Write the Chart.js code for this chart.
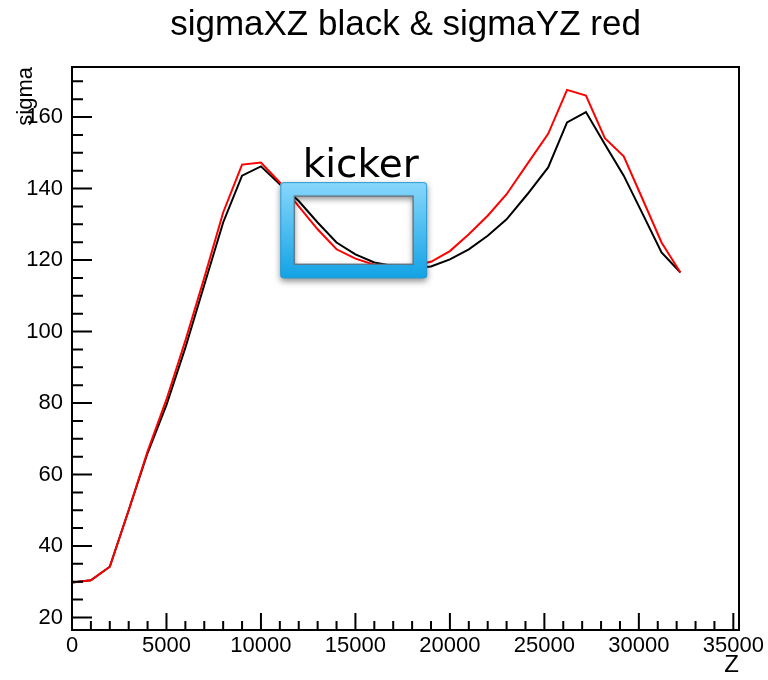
<!DOCTYPE html>
<html>
<head>
<meta charset="utf-8">
<script src="https://cdn.jsdelivr.net/npm/chart.js@4"></script>
<style>
  body { margin: 0; background: #fff; }
  canvas { display: block; }
</style>
</head>
<body>
<canvas id="sigmaChart" width="768" height="680"></canvas>
<script>
// z positions along the beam line
const z = [0, 1000, 2000, 3000, 4000, 5000, 6000, 7000, 8000, 9000, 10000,
  11000, 12000, 13000, 14000, 15000, 16000, 17000, 18000, 19000, 20000,
  21000, 22000, 23000, 24100, 25200, 26200, 27200, 28200, 29200, 30200, 31200, 32200];

// sigmaXZ (black)
const sigmaXZ = [29.8, 30.4, 34.2, 50, 66, 79.5, 95.5, 113, 130.5, 143.6, 146.2,
  141.2, 136.5, 130.5, 124.9, 121.6, 119.3, 118.3, 117.8, 118.2, 120.2,
  123.0, 126.8, 131.4, 138.4, 145.9, 158.5, 161.4, 152.4, 143.6, 132.9, 122.1, 116.5];

// sigmaYZ (red)
const sigmaYZ = [29.8, 30.4, 34.2, 50, 66.5, 81, 97.5, 115, 133.3, 146.7, 147.3,
  141.7, 135, 128.6, 123.0, 120.4, 118.7, 118.2, 118.5, 119.5, 122.5,
  127.2, 132.4, 138.4, 146.9, 155.3, 167.6, 166.0, 154.1, 149.0, 137.0, 124.9, 116.5];

const xTickValues = [0, 5000, 10000, 15000, 20000, 25000, 30000, 35000];
const yTickValues = [20, 40, 60, 80, 100, 120, 140, 160];
const xMinorStep = 1000;
const yMinorStep = 5;

// kicker annotation (data units)
const kickerZ = [11025, 18795];
const kickerSigma = [114.9, 141.8];
const kickerLabel = 'kicker';

const FONT = "'Liberation Sans', Arial, sans-serif";

const toPoints = (ys) => z.map((v, i) => ({ x: v, y: ys[i] }));

// ROOT-like frame: ticks inside the frame, plus the kicker box
const rootFrame = {
  id: 'rootFrame',
  afterDatasetsDraw(chart) {
    const { ctx, chartArea: { left, right, top, bottom }, scales: { x, y } } = chart;
    ctx.save();
    ctx.strokeStyle = '#000';
    ctx.lineWidth = 2;
    ctx.beginPath();
    for (let v = 0; v <= x.max; v += xMinorStep) {
      const px = x.getPixelForValue(v);
      const len = v % 5000 === 0 ? 17 : 9;
      ctx.moveTo(px, bottom);
      ctx.lineTo(px, bottom - len);
    }
    for (let v = Math.ceil(y.min / yMinorStep) * yMinorStep; v <= y.max; v += yMinorStep) {
      const py = y.getPixelForValue(v);
      const len = v % 20 === 0 ? 20 : 11;
      ctx.moveTo(left, py);
      ctx.lineTo(left + len, py);
    }
    ctx.stroke();
    ctx.lineWidth = 2;
    ctx.strokeRect(left, top, right - left, bottom - top);

    // kicker box
    const x0 = x.getPixelForValue(kickerZ[0]);
    const x1 = x.getPixelForValue(kickerZ[1]);
    const y0 = y.getPixelForValue(kickerSigma[1]);
    const y1 = y.getPixelForValue(kickerSigma[0]);
    const t = 14;
    const g = ctx.createLinearGradient(0, y0, 0, y1);
    g.addColorStop(0, '#88d7fb');
    g.addColorStop(1, '#12a2e5');
    ctx.save();
    ctx.shadowColor = 'rgba(0,0,0,0.45)';
    ctx.shadowBlur = 6;
    ctx.shadowOffsetY = 3;
    ctx.fillStyle = g;
    ctx.beginPath();
    ctx.roundRect(x0, y0, x1 - x0, y1 - y0, 3);
    ctx.rect(x0 + t, y0 + t, x1 - x0 - 2 * t, y1 - y0 - 2 * t);
    ctx.fill('evenodd');
    ctx.restore();
    ctx.strokeStyle = 'rgba(40,150,205,0.9)';
    ctx.lineWidth = 1;
    ctx.beginPath();
    ctx.roundRect(x0 + 0.5, y0 + 0.5, x1 - x0 - 1, y1 - y0 - 1, 3);
    ctx.stroke();
    ctx.strokeStyle = 'rgba(95,110,125,0.85)';
    ctx.lineWidth = 1.5;
    ctx.strokeRect(x0 + t, y0 + t, x1 - x0 - 2 * t, y1 - y0 - 2 * t);

    ctx.fillStyle = '#000';
    ctx.font = "39px 'DejaVu Sans', sans-serif";
    ctx.textAlign = 'center';
    ctx.textBaseline = 'alphabetic';
    ctx.fillText(kickerLabel, (x0 + x1) / 2 + 7, y0 - 5);
    ctx.restore();
  }
};

new Chart(document.getElementById('sigmaChart'), {
  type: 'line',
  data: {
    datasets: [
      {
        label: 'sigmaYZ',
        data: toPoints(sigmaYZ),
        borderColor: 'rgb(255,0,0)',
        order: 0
      },
      {
        label: 'sigmaXZ',
        data: toPoints(sigmaXZ),
        borderColor: '#000',
        order: 1
      }
    ]
  },
  options: {
    responsive: false,
    animation: false,
    layout: { padding: { left: 0, right: 29, top: 0, bottom: 0 } },
    elements: {
      point: { radius: 0 },
      line: { tension: 0, borderWidth: 2, fill: false }
    },
    plugins: {
      legend: { display: false },
      tooltip: { enabled: false },
      title: {
        display: true,
        text: 'sigmaXZ black & sigmaYZ red',
        fullSize: false,
        color: '#000',
        font: { family: FONT, size: 35, weight: 'normal' },
        padding: { top: 4, bottom: 21 }
      }
    },
    scales: {
      x: {
        type: 'linear',
        min: 0,
        max: 35300,
        grid: { display: false, drawTicks: false },
        border: { display: false },
        ticks: {
          color: '#000',
          font: { family: FONT, size: 22 },
          padding: 3,
          maxRotation: 0,
          autoSkip: false,
          callback: (v) => String(v)
        },
        afterBuildTicks: (s) => { s.ticks = xTickValues.map(v => ({ value: v })); },
        afterFit: (s) => { s.height = 50; },
        title: {
          display: true,
          text: 'Z',
          align: 'end',
          color: '#000',
          font: { family: FONT, size: 24 },
          padding: 0
        }
      },
      y: {
        type: 'linear',
        min: 16.5,
        max: 174,
        grid: { display: false, drawTicks: false },
        border: { display: false },
        ticks: {
          color: '#000',
          font: { family: FONT, size: 22 },
          padding: 9,
          includeBounds: false,
          callback: (v) => String(v)
        },
        afterBuildTicks: (s) => { s.ticks = yTickValues.map(v => ({ value: v })); },
        afterFit: (s) => { s.width = 72; },
        title: {
          display: true,
          text: 'sigma',
          align: 'end',
          color: '#000',
          font: { family: FONT, size: 22 },
          padding: 13
        }
      }
    }
  },
  plugins: [rootFrame]
});
</script>
</body>
</html>
